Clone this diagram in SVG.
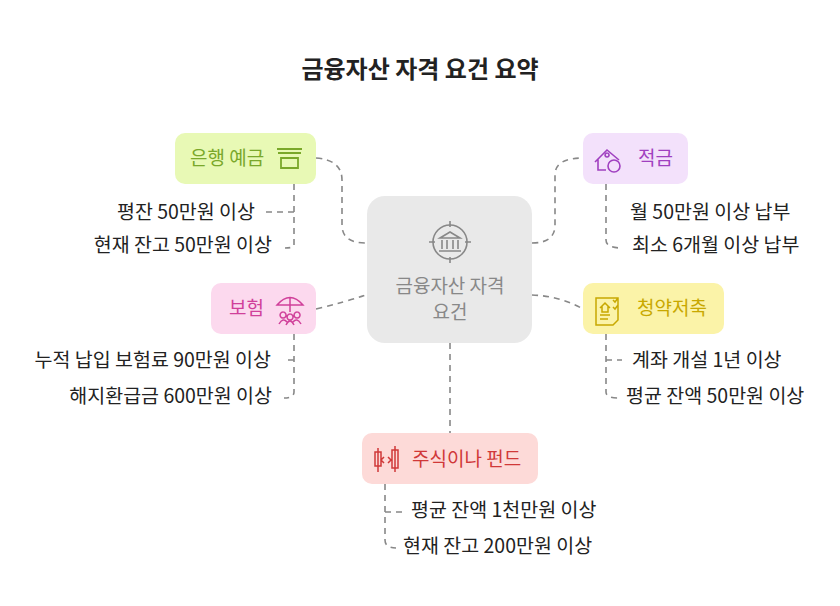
<svg xmlns="http://www.w3.org/2000/svg" width="840" height="606" viewBox="0 0 840 606">
<style>
text{font-family:"Noto Sans CJK KR","Noto Sans",sans-serif}
.t{font-size:24px;font-weight:bold;fill:#222}
.lf{font-size:19.5px;fill:#222}
.nl{font-size:19px}
.c{fill:none;stroke:#888;stroke-width:1.6;stroke-dasharray:6 5}
</style>
<rect width="840" height="606" fill="#fff"/>
<text class="t" x="420" y="78" text-anchor="middle">금융자산 자격 요건 요약</text>
<g id="connectors">
<path class="c" d="M316 158 Q342 160 342 180 V225 Q342 243 366 243"/>
<path class="c" d="M532 243 Q555 243 555 225 V175 Q555 158 583 158"/>
<path class="c" d="M316 309 Q345 302 366 295"/>
<path class="c" d="M532 295 Q560 296 583 309"/>
<path class="c" d="M450 343 V433"/>
<path class="c" d="M294 184 V245 Q294 248 285 248 M294 212 H262"/>
<path class="c" d="M606 184 V240 Q606 248 622 248 M606 212 V212"/>
<path class="c" d="M294 334 V392 Q294 398 284 398 M294 360 H288"/>
<path class="c" d="M606 334 V392 Q606 398 618 398 M606 360 H622"/>
<path class="c" d="M385 484 V540 Q385 548 396 548 M385 512 H402"/>
</g>
<g id="center">
<rect x="367" y="196" width="165" height="147" rx="18" fill="#e9e9e9"/>
<g fill="none" stroke="#888" stroke-width="1.6">
<circle cx="450" cy="242" r="17"/>
<path d="M450 221v6M450 257v6M429 242h6M465 242h6M440 238l10-6 10 6zM442 240v9M447 240v9M453 240v9M458 240v9M439 251h22"/>
</g>
<text class="nl" x="450" y="293" text-anchor="middle" fill="#888">금융자산 자격</text>
<text class="nl" x="450" y="319" text-anchor="middle" fill="#888">요건</text>
</g>
<g id="bank">
<rect x="175" y="133" width="141" height="51" rx="10" fill="#e8f9b5"/>
<text class="nl" x="190" y="165" fill="#7aa82a">은행 예금</text>
<path d="M277 149h25M278 153h23M281 158v10h17v-10zM281 158h17" fill="none" stroke="#7aa82a" stroke-width="1.8"/>
</g>
<g id="savings">
<rect x="583" y="133" width="105" height="51" rx="10" fill="#f3e1fb"/>
<path d="M595 162l12-12 12 10M598 159v11h8M607 153a2 2 0 1 0 .1 0" fill="none" stroke="#a040c0" stroke-width="1.6"/>
<circle cx="614" cy="166" r="6" fill="none" stroke="#a040c0" stroke-width="1.6"/>
<text class="nl" x="638" y="165" fill="#a040c0">적금</text>
</g>
<g id="insurance">
<rect x="211" y="283" width="105" height="51" rx="10" fill="#fcd9ee"/>
<text class="nl" x="229" y="315" fill="#d0409a">보험</text>
<path d="M277 305q13-15 26 0zM290 298v14M283 312a3 3 0 1 0 .1 0M290 314a3 3 0 1 0 .1 0M297 312a3 3 0 1 0 .1 0M279 324q4-7 8-2M286 325q4-8 8 0M293 322q4-5 8 2" fill="none" stroke="#d0409a" stroke-width="1.5"/>
</g>
<g id="subscription">
<rect x="583" y="283" width="141" height="51" rx="10" fill="#fbf3a8"/>
<path d="M596 298h22v22l-5 5h-17zM600 308l5-5 5 5M602 306v6h6v-6M600 315h10M600 319h8M613 300l2 2 3-4M613 307l2 2 3-4" fill="none" stroke="#c8a800" stroke-width="1.5"/>
<text class="nl" x="637" y="315" fill="#c8a800">청약저축</text>
</g>
<g id="stocks">
<rect x="362" y="433" width="176" height="51" rx="10" fill="#fddad8"/>
<path d="M378 448v24M375 452h6v14h-6zM395 446v26M392 450h6v18h-6zM384 457l-3 3 3 3M388 457l3 3-3 3" fill="none" stroke="#d03838" stroke-width="1.5"/>
<text class="nl" x="412" y="466" fill="#d03838">주식이나 펀드</text>
</g>
<g id="leaves">
<text class="lf" x="255" y="219" text-anchor="end">평잔 50만원 이상</text>
<text class="lf" x="272" y="252" text-anchor="end">현재 잔고 50만원 이상</text>
<text class="lf" x="630" y="219">월 50만원 이상 납부</text>
<text class="lf" x="632" y="252">최소 6개월 이상 납부</text>
<text class="lf" x="271" y="367" text-anchor="end">누적 납입 보험료 90만원 이상</text>
<text class="lf" x="272" y="403" text-anchor="end">해지환급금 600만원 이상</text>
<text class="lf" x="632" y="367">계좌 개설 1년 이상</text>
<text class="lf" x="626" y="403">평균 잔액 50만원 이상</text>
<text class="lf" x="411" y="517">평균 잔액 1천만원 이상</text>
<text class="lf" x="403" y="553">현재 잔고 200만원 이상</text>
</g>
</svg>
